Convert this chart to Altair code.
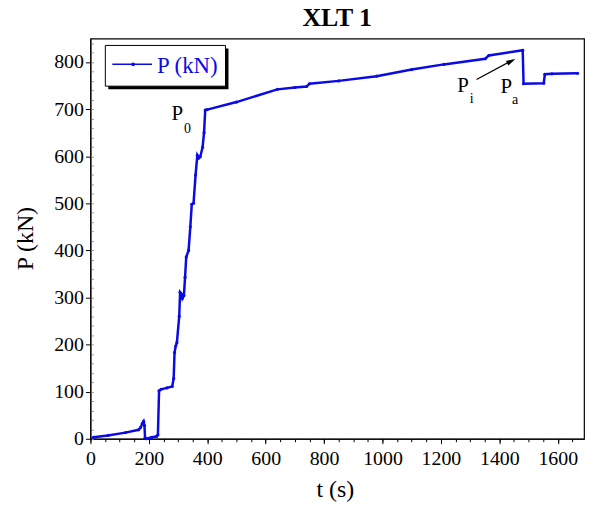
import altair as alt
import pandas as pd

# ---- data ----
t_s = [10, 60, 120, 165, 172, 178, 182, 185, 187, 192, 210, 226, 231, 235, 242, 262, 280,
       285, 288, 292, 296, 304, 307, 312, 315, 320, 324, 328, 336, 342, 347, 353, 360, 366,
       371, 376, 384, 389, 393, 400, 500, 640, 700, 740, 750, 850, 980, 1100, 1210, 1352,
       1364, 1480, 1483, 1552, 1556, 1580, 1668]
p_kn = [3, 7, 13, 19, 24, 33, 37, 28, 2, 0, 3, 5, 8, 102, 105, 108, 111,
        128, 183, 197, 204, 260, 311, 307, 298, 304, 343, 386, 400, 450, 498, 500, 560, 602,
        596, 599, 619, 650, 698, 699, 715, 742, 746, 748, 754, 760, 770, 784, 795, 807,
        814, 825, 754, 755, 774, 775, 776]

x_major = [0, 200, 400, 600, 800, 1000, 1200, 1400, 1600]
y_major = [0, 100, 200, 300, 400, 500, 600, 700, 800]
x_minor = list(range(0, 1690, 50))
y_minor = list(range(0, 851, 20))

ann_text = ["P", "0", "P", "i", "P", "a"]
ann_t = [297, 332, 1276, 1305, 1424, 1454]
ann_p = [676, 650, 737, 714, 735, 710]
ann_size = [21, 14, 21, 14, 21, 14]

arrow_t = [1322, 1445]
arrow_p = [763, 804]

FONT = "Liberation Serif"
BLUE = "#0a0ae6"

df = pd.DataFrame({"t": t_s, "P": p_kn})
ann = pd.DataFrame({"t": ann_t, "P": ann_p, "txt": ann_text, "fs": ann_size})
arr = pd.DataFrame({"t": [arrow_t[0]], "P": [arrow_p[0]], "t2": [arrow_t[1]], "P2": [arrow_p[1]]})
head = pd.DataFrame({"t": [1441], "P": [802]})
one = pd.DataFrame({"a": [0]})

xs = alt.Scale(domain=[0, 1690], nice=False, zero=False)
ys = alt.Scale(domain=[0, 850], nice=False)

base_x_axis = alt.Axis(values=x_major, format="d", title="t (s)", titleFont=FONT,
                       titleFontSize=24, titleFontWeight="normal", titleX=246, titleY=58,
                       titleBaseline="alphabetic", labelFont=FONT, labelFontSize=20,
                       labelColor="black", tickSize=5, tickColor="black", domainColor="black",
                       labelPadding=5, grid=False, labelFlush=False, labelOverlap=False,
                       orient="bottom")
base_y_axis = alt.Axis(values=y_major, format="d", title="P (kN)", titleFont=FONT,
                       titleFontSize=24, titleFontWeight="normal", titleX=-65, titleY=201,
                       titleAngle=-90, titleBaseline="middle", labelFont=FONT,
                       labelFontSize=20, labelColor="black", tickSize=5, tickColor="black",
                       domainColor="black", labelPadding=2, grid=False, labelFlush=False,
                       orient="left")

line = alt.Chart(df).mark_line(color=BLUE, strokeWidth=2.5).encode(
    x=alt.X("t:Q", scale=xs, axis=base_x_axis),
    y=alt.Y("P:Q", scale=ys, axis=base_y_axis),
)

pts = alt.Chart(df).mark_point(filled=True, color=BLUE, size=10, opacity=1).encode(
    x=alt.X("t:Q", scale=xs, axis=alt.Axis(values=x_minor, labels=False, title=None,
                                            tickSize=3, tickColor="black", domain=False,
                                            grid=False, orient="bottom")),
    y=alt.Y("P:Q", scale=ys, axis=alt.Axis(values=y_minor, labels=False, title=None,
                                            tickSize=2, tickColor="#999999", domain=False,
                                            grid=False, orient="left", offset=-3)),
)

txt = alt.Chart(ann).mark_text(font=FONT, color="black", baseline="alphabetic",
                               align="center").encode(
    x=alt.X("t:Q", scale=xs, axis=None), y=alt.Y("P:Q", scale=ys, axis=None), text="txt:N",
    size=alt.Size("fs:Q", scale=None, legend=None),
)

arrow = alt.Chart(arr).mark_rule(color="black", strokeWidth=1.2).encode(
    x=alt.X("t:Q", scale=xs, axis=None), y=alt.Y("P:Q", scale=ys, axis=None),
    x2="t2:Q", y2="P2:Q",
)
arrowhead = alt.Chart(head).mark_point(shape="M0,-1L0.55,1L-0.55,1Z", filled=True,
                                       color="black", size=90, angle=62, opacity=1).encode(
    x=alt.X("t:Q", scale=xs, axis=None), y=alt.Y("P:Q", scale=ys, axis=None),
)

# legend box (drawn in pixel space of the plot area)
leg_shadow = alt.Chart(one).mark_rect(color="black").encode(
    x=alt.value(18), x2=alt.value(139), y=alt.value(10), y2=alt.value(51))
leg_box = alt.Chart(one).mark_rect(fill="white", stroke="black", strokeWidth=1).encode(
    x=alt.value(15), x2=alt.value(136), y=alt.value(7), y2=alt.value(48))
leg_line = alt.Chart(one).mark_rule(color=BLUE, strokeWidth=1.5).encode(
    x=alt.value(22), x2=alt.value(62), y=alt.value(26))
leg_dot = alt.Chart(one).mark_point(filled=True, color=BLUE, size=14, opacity=1).encode(
    x=alt.value(43), y=alt.value(26))
leg_txt = alt.Chart(one).mark_text(text="P (kN)", font=FONT, fontSize=23, color=BLUE,
                                   align="left", baseline="alphabetic").encode(
    x=alt.value(67), y=alt.value(35))

chart = alt.layer(
    line, pts, txt, arrow, arrowhead, leg_shadow, leg_box, leg_line, leg_dot, leg_txt
).resolve_axis(x="independent", y="independent").properties(
    width=497, height=403,
    title=alt.TitleParams("XLT 1", font=FONT, fontSize=26, fontWeight="bold",
                          anchor="middle", offset=8, color="black"),
    autosize=alt.AutoSizeParams(type="none"),
    padding={"left": 83, "top": 29, "right": 4, "bottom": 64},
).configure_view(stroke="black", strokeWidth=1.2)

chart.save("out.html", embed_options={"renderer": "svg", "actions": False})
